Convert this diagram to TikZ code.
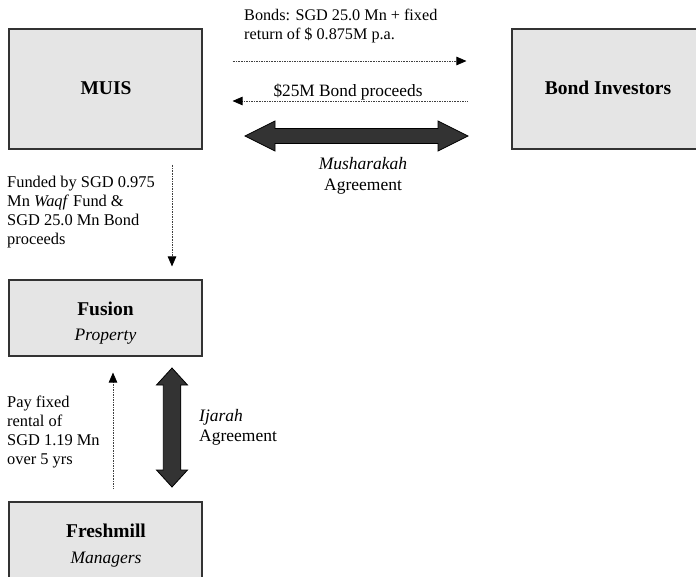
\documentclass[tikz,border=0pt]{standalone}
\usepackage{fontspec}
\setmainfont{Liberation Serif}
\usetikzlibrary{arrows.meta}
\tikzset{
  box/.style={draw=black!80, line width=1.1pt, fill=black!10, inner sep=0pt},
  boldlab/.style={font=\fontsize{19.5}{22}\selectfont\bfseries, inner sep=0pt},
  itlab/.style={font=\fontsize{17.5}{20}\selectfont\itshape, inner sep=0pt},
  txt/.style={font=\fontsize{16.4}{19}\selectfont, align=left, inner sep=0pt, anchor=north west},
  midtxt/.style={font=\fontsize{17.5}{21}\selectfont, inner sep=0pt},
  flow/.style={draw=black!75, line width=0.75pt, dash pattern=on 0.75pt off 0.9pt,
    -{Triangle[length=10pt,width=8.5pt,color=black]}},
  bigarrow/.style={draw=black, line width=0.8pt, fill=black!80, line join=miter}
}
\begin{document}
\begin{tikzpicture}[x=1pt,y=-1pt]
\useasboundingbox (0,0) rectangle (696,576);
% boxes
\node[box, minimum width=193pt, minimum height=120pt] (muis) at (105.5,89) {};
\node[box, minimum width=186pt, minimum height=120pt] (bond) at (605,89) {};
\node[box, minimum width=193pt, minimum height=76pt] (fusion) at (105.5,318) {};
\node[box, minimum width=193pt, minimum height=88pt] (fresh) at (105.5,546) {};
% box labels
\node[boldlab] (muist) at (106,88) {MUIS};
\node[boldlab] (bondt) at (608,88) {Bond Investors};
\node[boldlab] (fusiont) at (105.5,309) {Fusion};
\node[itlab] (fusions) at (105.5,337) {Property};
\node[boldlab] (fresht) at (106,531) {Freshmill};
\node[itlab] (freshs) at (106,559.5) {Managers};
% flows
\draw[flow] ([shift={(30,-28)}]muis.east) -- ([shift={(-45,-28)}]bond.west);
\draw[flow] ([shift={(-44,12)}]bond.west) -- ([shift={(30,12)}]muis.east);
\draw[flow] ([shift={(66.5,15)}]muis.south) -- ([shift={(66.5,-13)}]fusion.north);
\draw[flow] ([shift={(7.5,-13)}]fresh.north) -- ([shift={(7.5,16)}]fusion.south);
% big double arrows
\coordinate (mushL) at (245,136);
\coordinate (mushR) at (468,136);
\draw[bigarrow] (mushL) -- ++(30,-15) -- ++(0,7.5) -- ++(163,0) -- ++(0,-7.5) -- (mushR)
  -- ++(-30,15) -- ++(0,-7.5) -- ++(-163,0) -- ++(0,7.5) -- cycle;
\coordinate (ijT) at (172,368);
\coordinate (ijB) at (172,487);
\draw[bigarrow] (ijT) -- ++(15.5,17) -- ++(-6.75,0) -- ++(0,85) -- ++(6.75,0) -- (ijB)
  -- ++(-15.5,-17) -- ++(6.75,0) -- ++(0,-85) -- ++(-6.75,0) -- cycle;
% labels
\node[txt, font=\fontsize{16.2}{19}\selectfont] (bondslab) at (244,8.5) {\setlength{\baselineskip}{20.5pt}Bonds: SGD 25.0 Mn + fixed\\return of \$ 0.875M p.a.};
\node[midtxt, font=\fontsize{17.3}{20}\selectfont, anchor=base] (proclab) at (348,96) {\$25M Bond proceeds};
\node[midtxt, align=center, anchor=north] (mushlab) at (363,157) {\textit{Musharakah}\\Agreement};
\node[txt] (fundlab) at (7,175.5) {Funded by SGD 0.975\\Mn \textit{Waqf} Fund \&\\SGD 25.0 Mn Bond\\proceeds};
\node[txt] (paylab) at (7,395.5) {Pay fixed\\rental of\\SGD 1.19 Mn\\over 5 yrs};
\node[midtxt, align=left, anchor=north west, font=\fontsize{17.5}{20}\selectfont] (ijlab) at (199,409) {\textit{Ijarah}\\Agreement};
\end{tikzpicture}
\end{document}
